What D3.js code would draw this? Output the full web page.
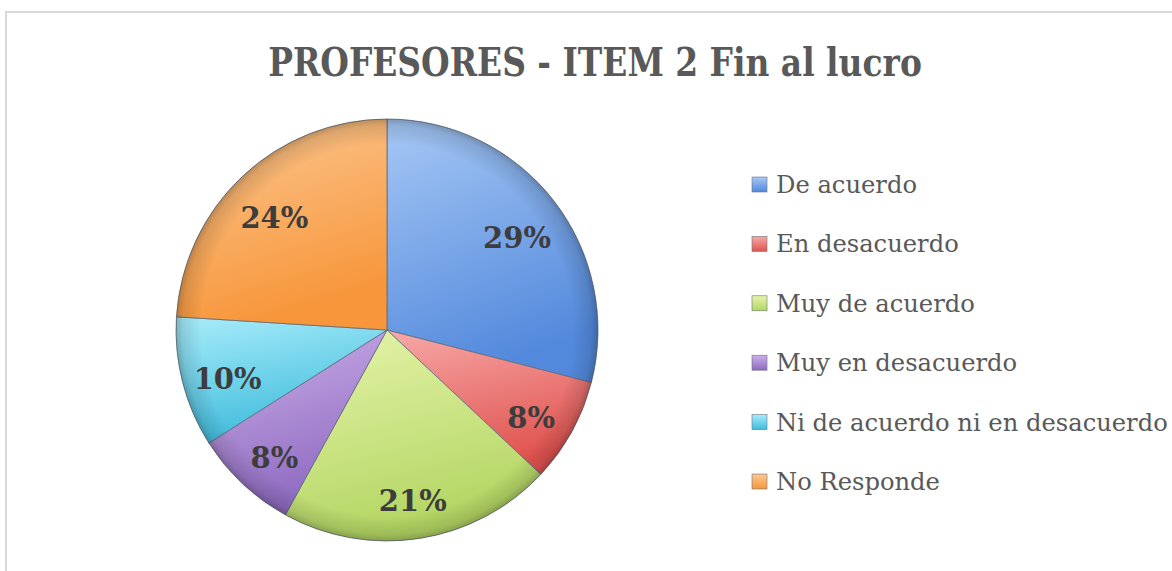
<!DOCTYPE html>
<html>
<head>
<meta charset="utf-8">
<script src="https://cdn.jsdelivr.net/npm/d3@7"></script>
<style>
  body { margin: 0; background: #fff; }
  svg { display: block; }
</style>
</head>
<body>
<div id="chart"></div>
<script>
var categories = ["De acuerdo", "En desacuerdo", "Muy de acuerdo", "Muy en desacuerdo", "Ni de acuerdo ni en desacuerdo", "No Responde"];
var values = [29, 8, 21, 8, 10, 24];
var labels = ["29%", "8%", "21%", "8%", "10%", "24%"];
var lightColors = ["#a6c8f5", "#f7a9a8", "#e6f4ab", "#cdb0ea", "#a8ecfa", "#fcc892"];
var darkColors = ["#5389dc", "#e0534f", "#b3d663", "#8e6ac0", "#3fbcdc", "#f7963a"];
var titleText = "PROFESORES - ITEM 2 Fin al lucro";

var width = 1172, height = 571;
var cx = 387, cy = 330, radius = 211;

var svg = d3.select("#chart")
    .append("svg")
    .attr("width", width)
    .attr("height", height);

var defs = svg.append("defs");

// chart area frame
svg.append("rect")
    .attr("x", 6)
    .attr("y", 12)
    .attr("width", width + 20)
    .attr("height", height + 20)
    .attr("fill", "#fff")
    .attr("stroke", "#d9d9d9")
    .attr("stroke-width", 2);

// title
var title = svg.append("text")
    .attr("x", 595)
    .attr("y", 76)
    .attr("text-anchor", "middle")
    .attr("font-family", "'DejaVu Serif', serif")
    .attr("font-weight", "bold")
    .attr("font-size", 40)
    .attr("fill", "#595959")
    .text(titleText);
var tw = title.node().getComputedTextLength();
title.attr("transform", "translate(595,0) scale(" + (654 / tw) + ",1) translate(-595,0)");

// slice gradients
categories.forEach(function(c, i) {
  var g = defs.append("linearGradient")
      .attr("id", "grad" + i)
      .attr("x1", 0).attr("y1", 0)
      .attr("x2", 0.3).attr("y2", 1);
  g.append("stop").attr("offset", "0%").attr("stop-color", lightColors[i]);
  g.append("stop").attr("offset", "100%").attr("stop-color", darkColors[i]);

  var m = defs.append("linearGradient")
      .attr("id", "mark" + i)
      .attr("x1", 0).attr("y1", 0)
      .attr("x2", 0).attr("y2", 1);
  m.append("stop").attr("offset", "0%").attr("stop-color", lightColors[i]);
  m.append("stop").attr("offset", "100%").attr("stop-color", darkColors[i]);
});

// rim shading for bevel look
var rim = defs.append("radialGradient")
    .attr("id", "rim")
    .attr("cx", 0.5).attr("cy", 0.5).attr("r", 0.5);
rim.append("stop").attr("offset", "88%").attr("stop-color", "#000").attr("stop-opacity", 0);
rim.append("stop").attr("offset", "97%").attr("stop-color", "#000").attr("stop-opacity", 0.12);
rim.append("stop").attr("offset", "100%").attr("stop-color", "#000").attr("stop-opacity", 0.25);

var pie = d3.pie()
    .sort(null)
    .value(function(d) { return d; });

var arc = d3.arc()
    .innerRadius(0)
    .outerRadius(radius);

var labelArc = d3.arc()
    .innerRadius(radius * 0.78)
    .outerRadius(radius * 0.78);

var arcs = pie(values);

var pieG = svg.append("g")
    .attr("transform", "translate(" + cx + "," + cy + ")");

pieG.selectAll("path.slice")
    .data(arcs)
    .enter()
    .append("path")
    .attr("class", "slice")
    .attr("d", arc)
    .attr("fill", function(d, i) { return "url(#grad" + i + ")"; })
    .attr("stroke", "#5f6b78")
    .attr("stroke-width", 0.8);

pieG.append("circle")
    .attr("r", radius)
    .attr("fill", "url(#rim)")
    .attr("pointer-events", "none");

pieG.selectAll("text.label")
    .data(arcs)
    .enter()
    .append("text")
    .attr("class", "label")
    .attr("transform", function(d) { return "translate(" + labelArc.centroid(d) + ")"; })
    .attr("text-anchor", "middle")
    .attr("y", 8)
    .attr("dy", "0.36em")
    .attr("font-family", "'DejaVu Serif', serif")
    .attr("font-weight", "bold")
    .attr("font-size", 29)
    .attr("fill", "#3d3d3d")
    .text(function(d, i) { return labels[i]; });

// legend
var legendY = d3.scalePoint()
    .domain(categories)
    .range([193, 490]);

var legend = svg.selectAll("g.legend")
    .data(categories)
    .enter()
    .append("g")
    .attr("class", "legend")
    .attr("transform", function(d) { return "translate(752," + legendY(d) + ")"; });

legend.append("rect")
    .attr("x", 0)
    .attr("y", -16)
    .attr("width", 15)
    .attr("height", 15)
    .attr("fill", function(d, i) { return "url(#mark" + i + ")"; })
    .attr("stroke", "#6a7480")
    .attr("stroke-width", 0.6);

legend.append("text")
    .attr("x", 24)
    .attr("y", 0)
    .attr("font-family", "'DejaVu Serif', serif")
    .attr("font-size", 23)
    .attr("fill", "#595959")
    .text(function(d) { return d; });

// fit the longest entry to the reference width
var longest = legend.filter(function(d, i) { return i === 4; }).select("text").node();
var lw = longest.getComputedTextLength();
var fs = 23 * 392 / lw;
legend.selectAll("text").attr("font-size", fs);
</script>
</body>
</html>
